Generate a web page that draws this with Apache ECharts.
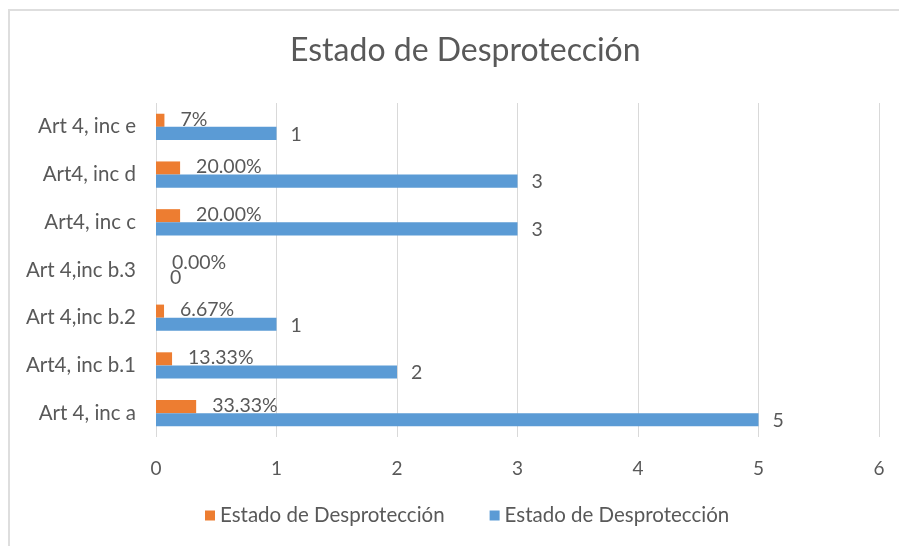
<!DOCTYPE html>
<html>
<head>
<meta charset="utf-8">
<script src="https://cdn.jsdelivr.net/npm/echarts@6/dist/echarts.min.js"></script>
<style>
  html, body { margin: 0; padding: 0; background: #fff; }
  #frame {
    position: absolute; left: 8px; top: 9px; width: 900px; height: 545px;
    border-left: 2px solid #dedede; border-top: 2px solid #dedede;
  }
  #chart { position: absolute; left: 0; top: 0; width: 899px; height: 546px; }
</style>
</head>
<body>
<div id="frame"></div>
<div id="chart"></div>
<script>
// categories, bottom to top
const categories = ['Art 4, inc a', 'Art4, inc b.1', 'Art 4,inc b.2', 'Art 4,inc b.3', 'Art4, inc c', 'Art4, inc d', 'Art 4, inc e']
const pctValues = [0.3333, 0.1333, 0.0667, 0, 0.2, 0.2, 0.07]
const pctLabels = ['33.33%', '13.33%', '6.67%', '0.00%', '20.00%', '20.00%', '7%']
const countValues = [5, 2, 1, 0, 3, 3, 1]
const xTicks = [0, 1, 2, 3, 4, 5, 6]
const seriesName = 'Estado de Desprotección'

const font = 'Lato, "Open Sans", sans-serif'
const textColor = '#595959'

const chart = echarts.init(document.getElementById('chart'))
chart.setOption({
  animation: false,
  title: {
    text: seriesName,
    left: 285,
    top: 30,
    textStyle: { fontFamily: font, fontSize: 32, fontWeight: 'normal', color: textColor }
  },
  legend: {
    data: ['pct', 'count'],
    bottom: 15,
    left: 200,
    itemWidth: 10,
    itemHeight: 10,
    itemGap: 45,
    icon: 'rect',
    formatter: () => seriesName,
    textStyle: { fontFamily: font, fontSize: 20.5, color: textColor }
  },
  grid: { left: 156, right: 20, top: 103, bottom: 109 },
  xAxis: {
    type: 'value',
    min: xTicks[0],
    max: xTicks[xTicks.length - 1],
    interval: 1,
    axisLine: { show: false },
    axisTick: { show: false },
    axisLabel: { margin: 22, fontFamily: font, fontSize: 19, color: textColor },
    splitLine: { lineStyle: { color: '#d9d9d9', width: 1 } }
  },
  yAxis: {
    type: 'category',
    data: categories,
    axisLine: { show: false },
    axisTick: { show: false },
    axisLabel: { margin: 20, fontFamily: font, fontSize: 20.5, color: textColor }
  },
  series: [
    {
      name: 'pct',
      type: 'bar',
      data: pctValues,
      barGap: '0%',
      barCategoryGap: '45%',
      itemStyle: { color: '#ED7D31' },
      label: {
        show: true,
        position: 'right',
        distance: 16,
        offset: [0, -1],
        formatter: p => pctLabels[p.dataIndex],
        fontFamily: font,
        fontSize: 19.5,
        color: textColor
      }
    },
    {
      name: 'count',
      type: 'bar',
      data: countValues,
      itemStyle: { color: '#5B9BD5' },
      label: {
        show: true,
        position: 'right',
        distance: 14,
        offset: [0, 1],
        fontFamily: font,
        fontSize: 19.5,
        color: textColor
      }
    }
  ]
})
</script>
</body>
</html>
